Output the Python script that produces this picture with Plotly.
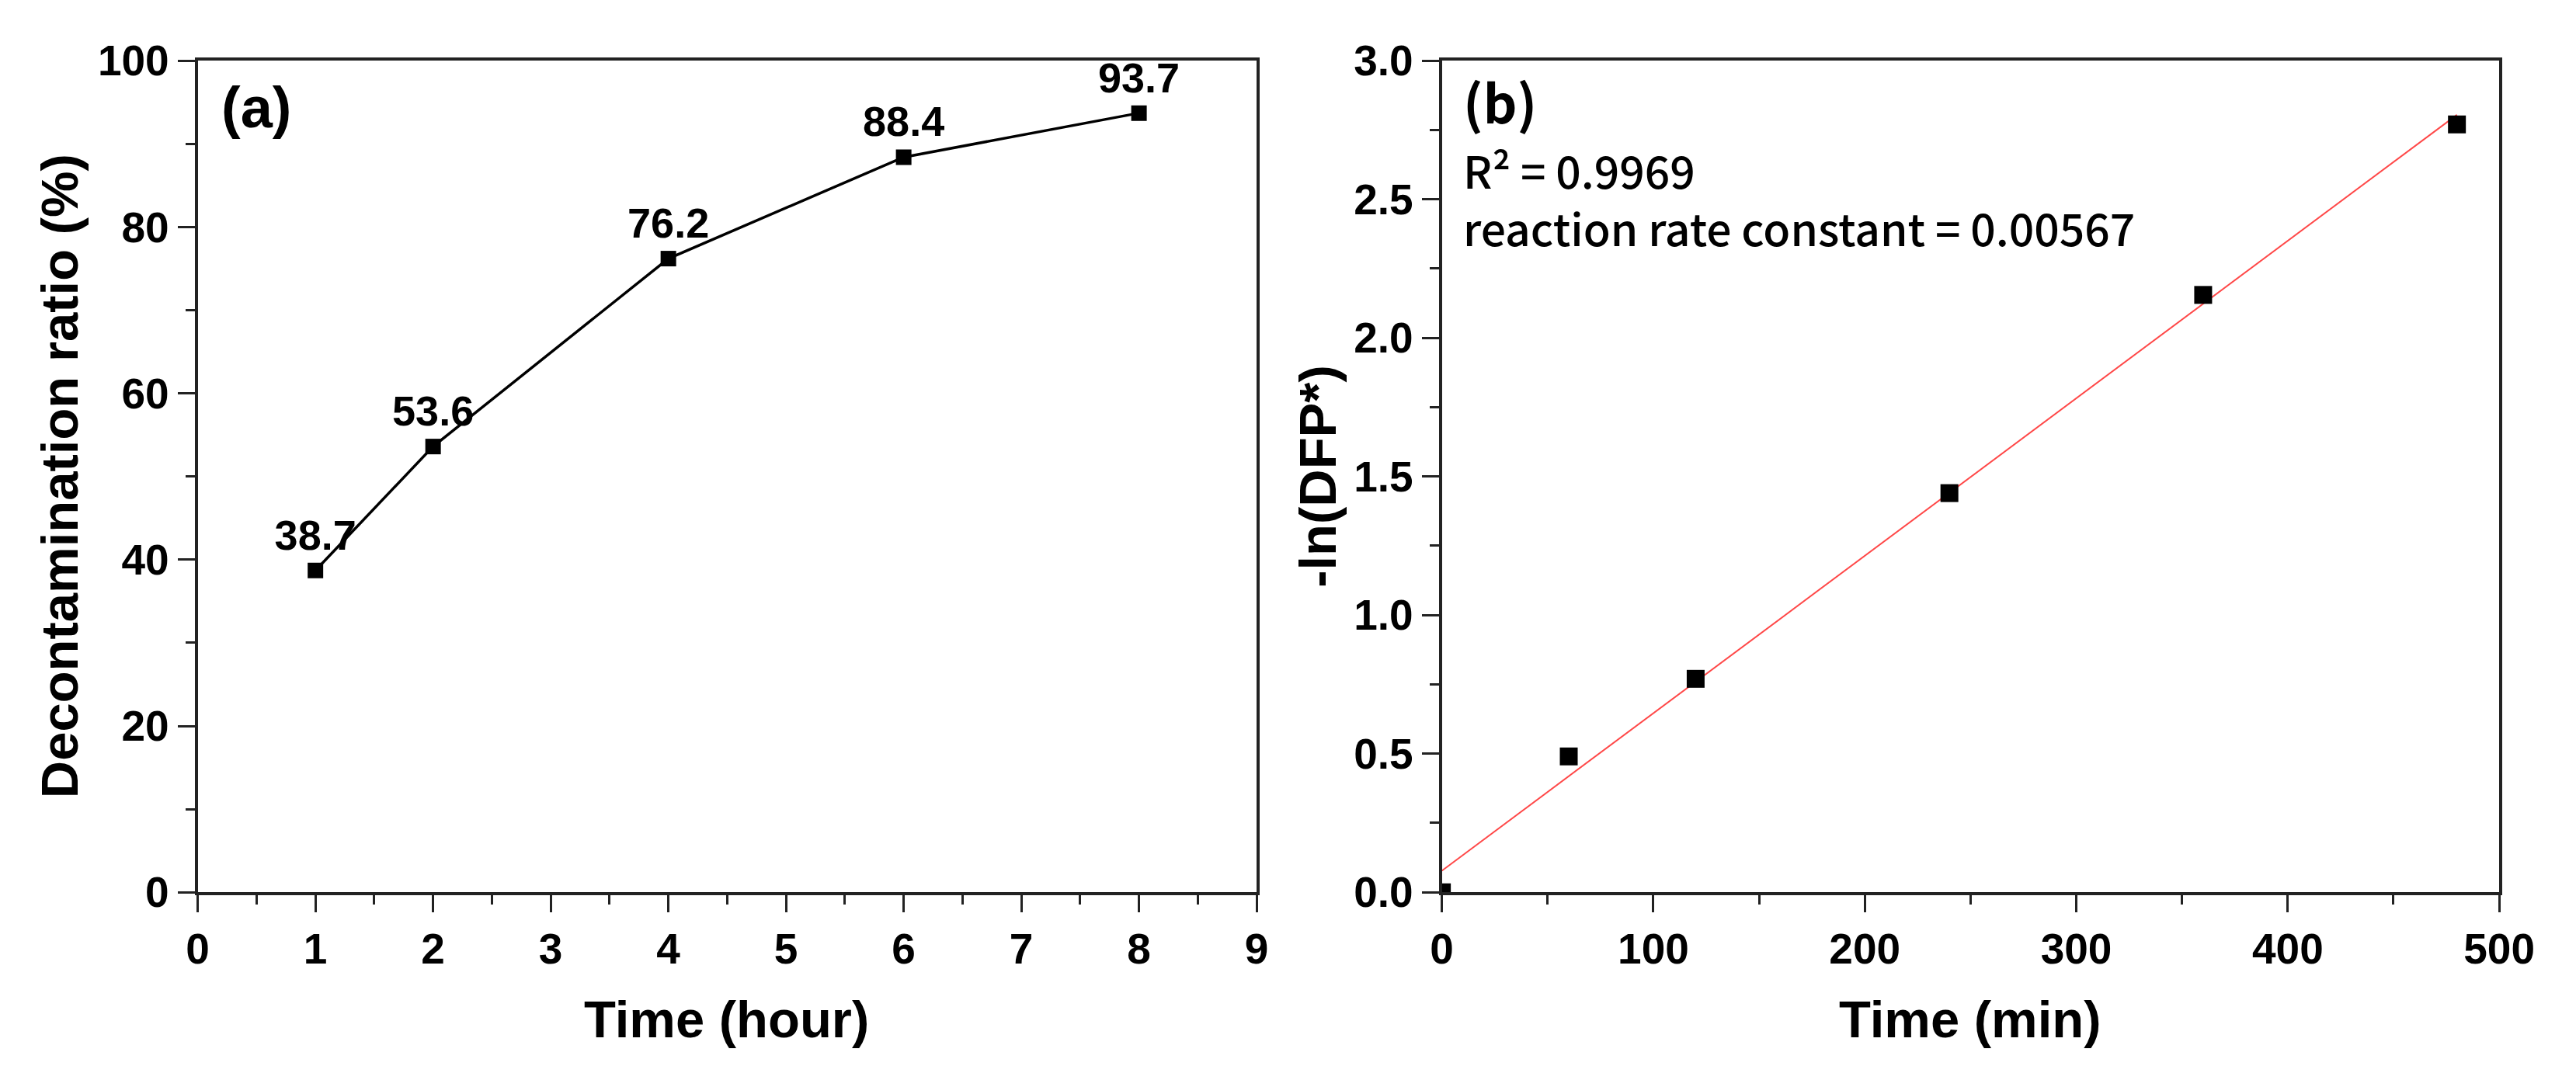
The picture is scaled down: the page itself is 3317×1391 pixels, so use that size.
import numpy as np
import plotly.graph_objects as go

W, H = 3317, 1391

# (a) decontamination ratio vs time
time_hour = [1, 2, 4, 6, 8]
decon_ratio = [38.7, 53.6, 76.2, 88.4, 93.7]
decon_labels = ["38.7", "53.6", "76.2", "88.4", "93.7"]

# (b) pseudo first-order kinetics
time_min = [0, 60, 120, 240, 360, 480]
neg_ln_dfp = [0.0, 0.49, 0.77, 1.44, 2.155, 2.77]

# linear fit through the (b) points
slope, intercept = np.polyfit(time_min, neg_ln_dfp, 1)
fit_x = np.array([min(time_min), max(time_min)])
fit_y = slope * fit_x + intercept

BOLD = "Liberation Sans, Arial, sans-serif"
KR = "Noto Sans CJK KR, Noto Sans, sans-serif"


def px(x):
    return x / W


def py(y):
    return 1 - y / H


fig = go.Figure()

fig.add_trace(go.Scatter(
    x=time_hour, y=decon_ratio,
    mode="lines+markers+text",
    text=decon_labels,
    textposition="top center",
    textfont=dict(family=BOLD, size=54, color="black", weight="bold"),
    line=dict(color="black", width=3.5),
    marker=dict(symbol="square", size=20, color="black"),
    xaxis="x", yaxis="y",
    showlegend=False,
))

fig.add_trace(go.Scatter(
    x=fit_x, y=fit_y,
    mode="lines",
    line=dict(color="rgba(255,40,40,0.85)", width=2),
    xaxis="x2", yaxis="y2",
    showlegend=False,
))

fig.add_trace(go.Scatter(
    x=time_min, y=neg_ln_dfp,
    mode="markers",
    marker=dict(symbol="square", size=23, color="black"),
    xaxis="x2", yaxis="y2",
    showlegend=False,
))

axis_common = dict(
    showline=True, linecolor="#222", linewidth=4, mirror=True,
    ticks="outside", ticklen=22, tickwidth=3, tickcolor="#222",
    showgrid=False, zeroline=False,
    tickfont=dict(family=BOLD, size=55, color="black", weight="bold"),
)
minor_ticks = dict(ticks="outside", ticklen=12, tickwidth=3, tickcolor="#222")

fig.update_layout(
    width=W, height=H,
    margin=dict(l=0, r=0, t=0, b=0),
    paper_bgcolor="white",
    plot_bgcolor="white",
    xaxis=dict(
        axis_common, domain=[px(236), px(1625)], range=[0, 9], dtick=1,
        minor=dict(minor_ticks, dtick=0.5), anchor="y",
    ),
    yaxis=dict(
        axis_common, domain=[py(1162), py(41)], range=[0, 100], dtick=20,
        minor=dict(minor_ticks, dtick=10), anchor="x",
    ),
    xaxis2=dict(
        axis_common, domain=[px(1868), px(3255)], range=[0, 500], dtick=100,
        minor=dict(minor_ticks, dtick=50), anchor="y2",
    ),
    yaxis2=dict(
        axis_common, domain=[py(1162), py(41)], range=[0, 3], dtick=0.5, tickformat=".1f",
        minor=dict(minor_ticks, dtick=0.25), anchor="x2",
    ),
)

title_font = dict(family=BOLD, size=67, color="black", weight="bold")
annotations = [
    dict(text="Time (hour)", x=px(930), y=py(1333), font=title_font),
    dict(text="Time (min)", x=px(2561), y=py(1333), font=title_font),
    dict(text="Decontamination ratio (%)", x=px(54), y=py(601), textangle=-90, font=title_font),
    dict(text="-ln(DFP*)", x=px(1705), y=py(601), textangle=-90, font=title_font),
    dict(text="(a)", x=px(265), y=py(104), xanchor="left",
         font=dict(family=BOLD, size=74, color="black", weight="bold")),
    dict(text="(b)", x=px(1894), y=py(95), xanchor="left",
         font=dict(family=KR, size=68, color="black", weight="bold")),
    dict(text="R² = 0.9969<br>reaction rate constant = 0.00567",
         x=px(1894), y=py(226), xanchor="left", align="left",
         font=dict(family=KR, size=57, color="black", weight=500)),
]
for a in annotations:
    a.setdefault("xanchor", "center")
    a.update(xref="paper", yref="paper", yanchor="middle", showarrow=False)
fig.update_layout(annotations=annotations)

fig.write_html("out.html")
